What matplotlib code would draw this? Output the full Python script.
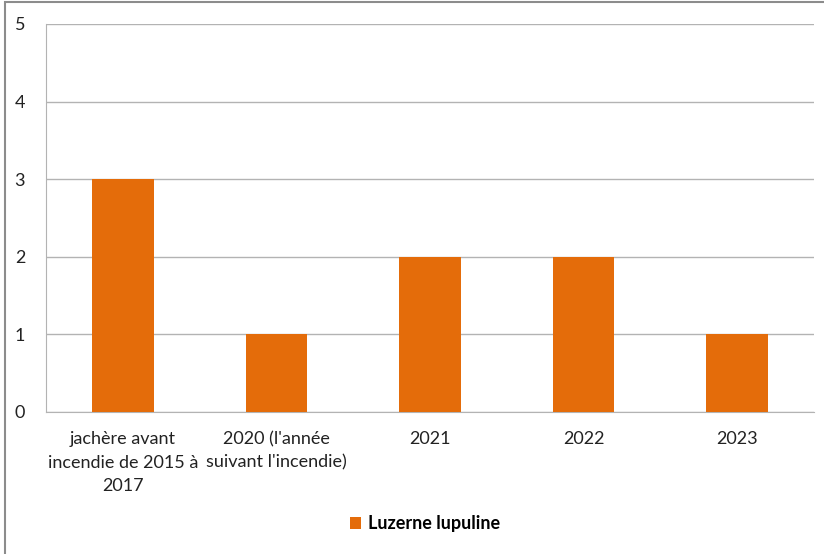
import matplotlib.pyplot as plt
from matplotlib.patches import Rectangle

categories = ["jachère avant\nincendie de 2015 à\n2017",
              "2020 (l'année\nsuivant l'incendie)",
              "2021", "2022", "2023"]
values = [3, 1, 2, 2, 1]
series_name = "Luzerne lupuline"
yticks = [0, 1, 2, 3, 4, 5]

plt.rcParams['font.family'] = ['Lato', 'DejaVu Sans']

fig = plt.figure(figsize=(8.24, 5.54), dpi=100)
W, H = 824, 554
ax = fig.add_axes([46 / W, 1 - 412 / H, (814 - 46) / W, (412 - 24) / H])

# chart frame (left and top edges visible)
fig.patches.append(Rectangle((5 / W, -0.1), 1.2, 1 - 2 / H + 0.1, transform=fig.transFigure,
                             fill=False, edgecolor='#8c8c8c', linewidth=1.5))

x = range(len(categories))
ax.bar(x, values, width=0.4, color='#E46C0A', zorder=3, label=series_name)

ax.set_xlim(-0.5, len(categories) - 0.5)
ax.set_ylim(0, 5)
ax.set_yticks(yticks)
ax.set_yticklabels([str(t) for t in yticks], fontsize=13, color='#222222')
ax.set_xticks(list(x))
ax.set_xticklabels(categories, fontsize=13, color='#222222', linespacing=1.55)
ax.tick_params(axis='both', length=0)
ax.tick_params(axis='y', pad=15)
ax.tick_params(axis='x', pad=14)

ax.grid(axis='y', color='#b3b3b3', linewidth=1, zorder=0)
for s in ['top', 'right']:
    ax.spines[s].set_visible(False)
ax.spines['left'].set_color('#b3b3b3')
ax.spines['bottom'].set_color('#b3b3b3')

leg = fig.legend(loc='center', bbox_to_anchor=(425 / W, 1 - 524 / H), frameon=False,
                 handlelength=0.6, handleheight=0.6, handletextpad=0.4,
                 prop={'size': 13, 'weight': 'bold'})

fig.savefig('out.png', dpi=100)
